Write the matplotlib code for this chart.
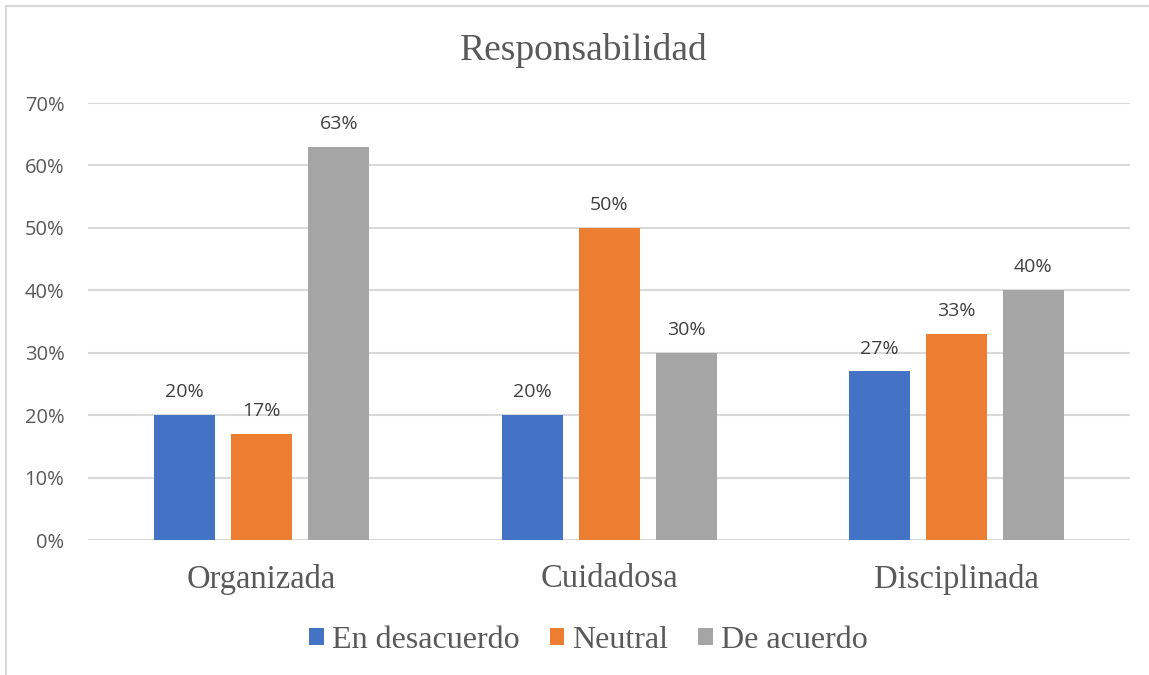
import numpy as np
import matplotlib.pyplot as plt
from matplotlib.patches import Rectangle

categories = ["Organizada", "Cuidadosa", "Disciplinada"]
series_names = ["En desacuerdo", "Neutral", "De acuerdo"]
en_desacuerdo = [20, 20, 27]
neutral = [17, 50, 33]
de_acuerdo = [63, 30, 40]
yticks = [0, 10, 20, 30, 40, 50, 60, 70]

colors = ["#4472C4", "#ED7D31", "#A5A5A5"]
text_gray = "#595959"
serif = "Liberation Serif"
sans = "Open Sans"

fig = plt.figure(figsize=(11.49, 6.75), dpi=100)
ax = fig.add_axes([0.0766, 0.2, 0.9069, 0.6474])

# frame of the chart area
fig.patches.append(Rectangle((6 / 1149, -0.1), 1.2, 1 - 6 / 675 + 0.1, transform=fig.transFigure,
                             fill=False, edgecolor="#d9d9d9", linewidth=1.5))

x = np.arange(len(categories))
width = 0.1756
step = 0.2217
for k, (vals, name) in enumerate(zip([en_desacuerdo, neutral, de_acuerdo], series_names)):
    bars = ax.bar(x + (k - 1) * step, vals, width, color=colors[k], label=name, zorder=3)
    for b, v in zip(bars, vals):
        ax.annotate(f"{v}%", (b.get_x() + b.get_width() / 2, v), xytext=(0, 10),
                    textcoords="offset points", ha="center", va="bottom",
                    fontsize=14, color="#404040", family=sans)

ax.set_xlim(-0.5, 2.5)
ax.set_ylim(0, 70)
ax.set_yticks(yticks)
ax.set_yticklabels([f"{t}%" for t in yticks], family=sans, fontsize=14.5, color=text_gray)
ax.set_xticks(x)
ax.set_xticklabels(categories, family=serif, fontsize=23.5, color=text_gray)
ax.tick_params(axis="both", length=0)
ax.tick_params(axis="y", pad=17)
ax.tick_params(axis="x", pad=17)
ax.grid(axis="y", color="#d9d9d9", linewidth=1.5, zorder=0)
for s in ax.spines.values():
    s.set_visible(False)

fig.text(0.508, 1 - 50 / 675, "Responsabilidad", ha="center", va="center",
         family=serif, fontsize=27, color=text_gray)

leg = ax.legend(loc="center", bbox_to_anchor=(0.512, 1 - 640 / 675), bbox_transform=fig.transFigure,
                ncol=3, frameon=False, handlelength=0.45, handleheight=0.45, handletextpad=0.25,
                columnspacing=0.95, prop={"family": serif, "size": 23})
for t in leg.get_texts():
    t.set_color(text_gray)

fig.savefig("out.png", dpi=100)
